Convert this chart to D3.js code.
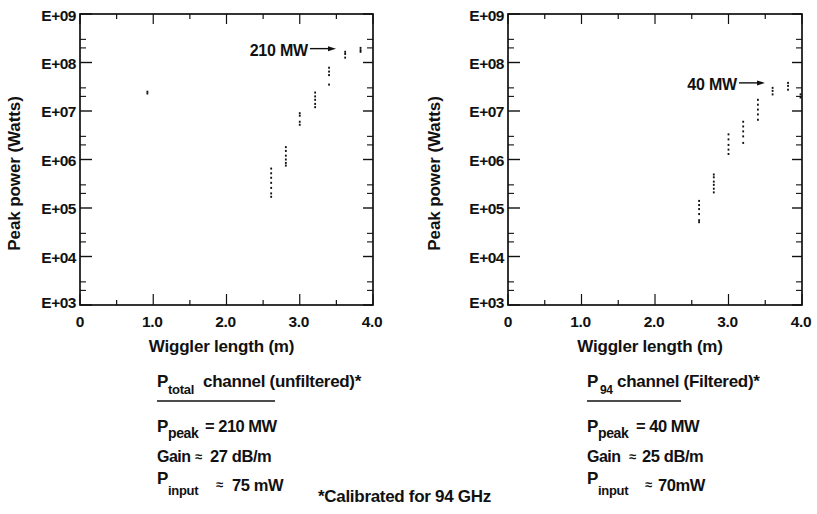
<!DOCTYPE html>
<html><head><meta charset="utf-8">
<script src="https://cdn.jsdelivr.net/npm/d3@7"></script>
<style>
body{margin:0;background:#fff;}
text{font-family:"Liberation Sans",Arial,sans-serif;font-weight:bold;fill:#111;white-space:pre;}
</style></head>
<body><svg id="c" width="817" height="514"></svg>
<script>
// ---- data ----
const xTicks = [0, 1, 2, 3, 4];
const xTickLabels = ["0", "1.0", "2.0", "3.0", "4.0"];
const yTicks = [1e3, 1e4, 1e5, 1e6, 1e7, 1e8, 1e9];
const yTickLabels = ["E+03", "E+04", "E+05", "E+06", "E+07", "E+08", "E+09"];
// unfiltered (P_total) channel: wiggler length (m) and peak power samples (W)
const totalLengths = [0.92, 2.61, 2.81, 3.0, 3.21, 3.40, 3.62, 3.83];
const totalPowers = [
  [2.3e7, 2.5e7],
  [6.5e5, 5.2e5, 4.2e5, 3.3e5, 2.6e5, 2.0e5, 1.7e5],
  [1.8e6, 1.5e6, 1.2e6, 1.0e6, 8.5e5, 7.5e5],
  [9.0e6, 8.0e6, 6.0e6, 5.2e6],
  [2.4e7, 2.0e7, 1.7e7, 1.4e7, 1.2e7],
  [7.8e7, 6.5e7, 5.5e7, 3.5e7],
  [1.66e8, 1.5e8, 1.26e8],
  [2.0e8, 1.8e8, 1.66e8]
];
// filtered (P_94) channel
const f94Lengths = [2.6, 2.8, 3.0, 3.2, 3.4, 3.6, 3.81, 3.98];
const f94Powers = [
  [1.4e5, 1.15e5, 9.5e4, 7.5e4, 5.6e4, 5.1e4],
  [4.9e5, 4.3e5, 3.5e5, 3.0e5, 2.5e5, 2.1e5],
  [3.3e6, 2.6e6, 2.0e6, 1.6e6, 1.3e6],
  [6.0e6, 4.8e6, 3.8e6, 3.0e6, 2.2e6],
  [1.7e7, 1.35e7, 1.07e7, 8.5e6, 6.6e6],
  [3.0e7, 2.6e7, 2.2e7],
  [3.8e7, 3.3e7, 2.75e7],
  [2.2e7, 1.9e7]
];
const annotations = ["210 MW", "40 MW"];
const annotationValues = [2.1e8, 4.0e7];

const svg = d3.select("#c");

function panel(opt) {
  const {x0, x1, y0, y1, lengths, powers, ann, annX, annY, titleOff} = opt;
  const x = d3.scaleLinear().domain([0, 4]).range([x0, x1]);
  const y = d3.scaleLog().domain([1e3, 1e9]).range([y1, y0]);
  const g = svg.append("g");
  g.append("rect").attr("x", x0).attr("y", y0).attr("width", x1 - x0).attr("height", y1 - y0)
    .attr("fill", "none").attr("stroke", "#111").attr("stroke-width", 1.7);
  yTicks.forEach((v, i) => {
    const yy = y(v);
    g.append("line").attr("x1", x0).attr("x2", x0 + 12).attr("y1", yy).attr("y2", yy).attr("stroke", "#111").attr("stroke-width", 1.4);
    g.append("line").attr("x1", x1).attr("x2", x1 - 10).attr("y1", yy).attr("y2", yy).attr("stroke", "#111").attr("stroke-width", 1.4);
    if (i < yTicks.length - 1) {
      [2, 3].forEach(m => {
        const ym = y(v * m);
        g.append("line").attr("x1", x0).attr("x2", x0 + 6).attr("y1", ym).attr("y2", ym).attr("stroke", "#111").attr("stroke-width", 1.1);
        g.append("line").attr("x1", x1).attr("x2", x1 - 6).attr("y1", ym).attr("y2", ym).attr("stroke", "#111").attr("stroke-width", 1.1);
      });
    }
    g.append("text").attr("x", x0 - 4).attr("y", yy + 6).attr("text-anchor", "end")
      .attr("font-size", 15.5).attr("letter-spacing", -0.5)
      .attr("dy", i === 0 ? -3 : (i === yTicks.length - 1 ? 1 : 0)).text(yTickLabels[i]);
  });
  d3.range(0, 4.01, 0.5).forEach(v => {
    const xx = x(v);
    const major = Math.abs(v - Math.round(v)) < 1e-6;
    g.append("line").attr("x1", xx).attr("x2", xx).attr("y1", y1).attr("y2", y1 - (major ? 11 : 5)).attr("stroke", "#111").attr("stroke-width", 1.2);
    g.append("line").attr("x1", xx).attr("x2", xx).attr("y1", y0).attr("y2", y0 + (major ? 10 : 5)).attr("stroke", "#111").attr("stroke-width", 1.2);
  });
  xTicks.forEach((v, i) => {
    g.append("text").attr("x", x(v) - (i === 0 ? 0 : 1)).attr("y", y1 + 22).attr("text-anchor", "middle")
      .attr("font-size", 15.5).attr("letter-spacing", -0.3).text(xTickLabels[i]);
  });
  g.append("text").attr("x", (x0 + x1) / 2 - 5).attr("y", y1 + 47).attr("text-anchor", "middle")
    .attr("font-size", 17).attr("letter-spacing", -0.2).text("Wiggler length (m)");
  g.append("text").attr("transform", `translate(${x0 - titleOff},${(y0 + y1) / 2 + 14}) rotate(-90)`).attr("text-anchor", "middle")
    .attr("font-size", 17).attr("letter-spacing", -0.1).text("Peak power (Watts)");
  lengths.forEach((L, i) => {
    powers[i].forEach(p => {
      g.append("rect").attr("x", x(L) - 0.9).attr("y", y(p) - 1).attr("width", 1.8).attr("height", 2).attr("fill", "#111");
    });
  });
  const ay = y(annY);
  g.append("text").attr("x", annX).attr("y", ay + 7).attr("text-anchor", "end")
    .attr("font-size", 16).attr("letter-spacing", -0.2).text(ann);
  g.append("line").attr("x1", annX + 2).attr("x2", annX + 22).attr("y1", ay).attr("y2", ay).attr("stroke", "#111").attr("stroke-width", 1.4);
  g.append("path").attr("d", `M${annX + 28},${ay} L${annX + 20},${ay - 2.5} L${annX + 20},${ay + 2.5} Z`).attr("fill", "#111");
}

panel({x0: 80, x1: 373, y0: 14, y1: 305, lengths: totalLengths, powers: totalPowers,
  ann: annotations[0], annX: 308, annY: annotationValues[0] * 0.92, titleOff: 60});
panel({x0: 508, x1: 802, y0: 14, y1: 305, lengths: f94Lengths, powers: f94Powers,
  ann: annotations[1], annX: 737, annY: annotationValues[1] * 0.95, titleOff: 68});

// captions
const cap = svg.append("g");
function t(x, y, s, fs, ls) {
  return cap.append("text").attr("x", x).attr("y", y).attr("font-size", fs).attr("letter-spacing", ls == null ? -0.3 : ls).text(s);
}
function captions(o) {
  t(o.x, 387, "P", 17);
  t(o.x + o.headSubDx, 394, o.headSub, o.headSubFs);
  t(o.headX, 387, o.headRest, 17);
  cap.append("line").attr("x1", o.x).attr("x2", o.ulEnd).attr("y1", 401).attr("y2", 401).attr("stroke", "#111").attr("stroke-width", 1.7);
  t(o.x, 432, "P", 17);
  t(o.x + 11, 438, "peak", 14, -0.4);
  t(o.peakX, 432, o.peak, 16.5, -0.5);
  t(o.x, 462, "Gain", 16, -0.5);
  t(o.gainApproxX, 461, "\u2248", 13);
  t(o.gainX, 462, o.gain, 16.5, -0.4);
  t(o.x, 484, "P", 17);
  t(o.x + 11, 495, "input", 13, -0.3);
  t(o.pinApproxX, 489, "\u2248", 13);
  t(o.pinX, 491, o.pin, 16.5, -0.4);
}
captions({x: 157, headSub: "total", headSubDx: 11, headSubFs: 13, headX: 203, headRest: "channel (unfiltered)*", ulEnd: 275,
  peakX: 205, peak: "= 210 MW", gainApproxX: 195, gainX: 210, gain: "27 dB/m",
  pinApproxX: 216, pinX: 232, pin: "75 mW"});
captions({x: 587, headSub: "94", headSubDx: 13, headSubFs: 12, headX: 617, headRest: "channel (Filtered)*", ulEnd: 681,
  peakX: 636, peak: "= 40 MW", gainApproxX: 629, gainX: 642, gain: "25 dB/m",
  pinApproxX: 645, pinX: 658, pin: "70mW"});
t(318, 502, "*Calibrated for 94 GHz", 17);
</script></body></html>
